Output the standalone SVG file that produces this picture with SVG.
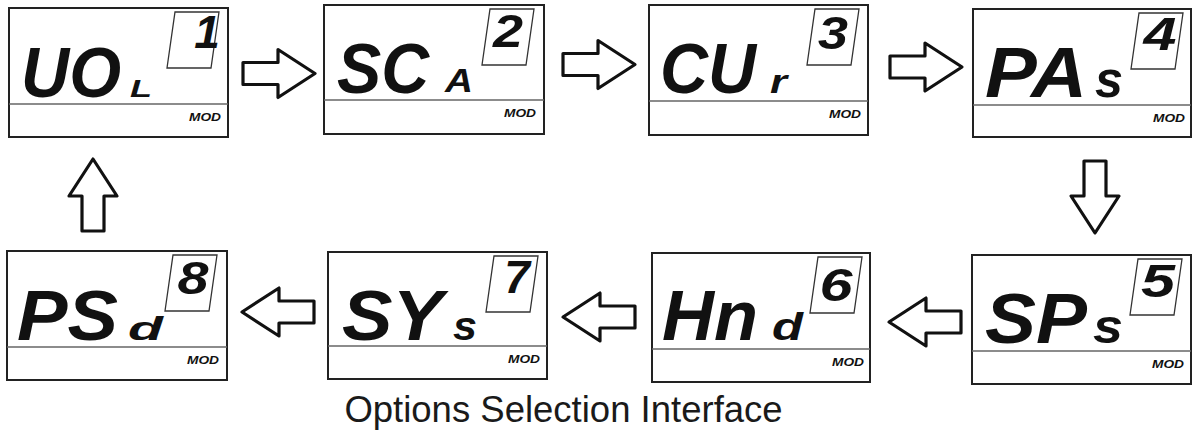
<svg xmlns="http://www.w3.org/2000/svg" width="1193" height="439" viewBox="0 0 1193 439">
<style>
.frame{fill:#fff;stroke:#222;stroke-width:2}
.div{stroke:#666;stroke-width:1.6}
.win{fill:none;stroke:#333;stroke-width:1.3}
.lcd{font-family:"Liberation Sans",Arial,sans-serif;font-weight:bold;font-style:italic;fill:#111}
.big{font-size:70px}
.dig{font-size:46px}
.mod{font-size:10px}
.arrow{fill:#fff;stroke:#111;stroke-width:3.2;stroke-linejoin:round}
.cap{font-family:"Liberation Sans",Arial,sans-serif;font-size:36.5px;fill:#1a1a1a}
</style>
<defs>
<path id="arr" d="M0,-11 L35,-11 L35,-24 L72,0 L35,24 L35,11 L0,11 Z"/>
<polygon id="win" points="166,4 210,4 202,60 158,60"/>
</defs>

<g id="node1" transform="translate(9,8)">
<rect class="frame" x="0" y="0" width="219" height="129"/>
<line class="div" x1="0" y1="96" x2="219" y2="96"/>
<use href="#win" class="win"/>
<text class="lcd big" x="12" y="89" textLength="100" lengthAdjust="spacingAndGlyphs">UO</text>
<text class="lcd" x="121" y="89" font-size="24" textLength="22" lengthAdjust="spacingAndGlyphs">L</text>
<text class="lcd dig" x="198" y="40" text-anchor="middle">1</text>
<text class="lcd mod" x="180" y="113" textLength="32" lengthAdjust="spacingAndGlyphs">MOD</text>
</g>

<g id="node2" transform="translate(324,5)">
<rect class="frame" x="0" y="0" width="220" height="129"/>
<line class="div" x1="0" y1="95" x2="220" y2="95"/>
<use href="#win" class="win"/>
<text class="lcd big" x="13" y="88" textLength="92" lengthAdjust="spacingAndGlyphs">SC</text>
<text class="lcd" x="121" y="87" font-size="34" textLength="28" lengthAdjust="spacingAndGlyphs">A</text>
<text class="lcd dig" x="184" y="42" text-anchor="middle" textLength="30" lengthAdjust="spacingAndGlyphs">2</text>
<text class="lcd mod" x="180" y="112" textLength="32" lengthAdjust="spacingAndGlyphs">MOD</text>
</g>

<g id="node3" transform="translate(649,5)">
<rect class="frame" x="0" y="0" width="219" height="130"/>
<line class="div" x1="0" y1="96" x2="219" y2="96"/>
<use href="#win" class="win"/>
<text class="lcd big" x="11" y="88" textLength="96" lengthAdjust="spacingAndGlyphs">CU</text>
<text class="lcd" x="121" y="88" font-size="33" textLength="17" lengthAdjust="spacingAndGlyphs">r</text>
<text class="lcd dig" x="184" y="44" text-anchor="middle" textLength="30" lengthAdjust="spacingAndGlyphs">3</text>
<text class="lcd mod" x="180" y="113" textLength="32" lengthAdjust="spacingAndGlyphs">MOD</text>
</g>

<g id="node4" transform="translate(973,9)">
<rect class="frame" x="0" y="0" width="218" height="128"/>
<line class="div" x1="0" y1="96" x2="218" y2="96"/>
<use href="#win" class="win"/>
<text class="lcd big" x="12" y="88" textLength="102" lengthAdjust="spacingAndGlyphs">PA</text>
<text class="lcd" x="122" y="88" font-size="52" textLength="28" lengthAdjust="spacingAndGlyphs">s</text>
<text class="lcd dig" x="187" y="41" text-anchor="middle" textLength="33" lengthAdjust="spacingAndGlyphs">4</text>
<text class="lcd mod" x="180" y="113" textLength="32" lengthAdjust="spacingAndGlyphs">MOD</text>
</g>

<g id="node5" transform="translate(972,255)">
<rect class="frame" x="0" y="0" width="219" height="129"/>
<line class="div" x1="0" y1="96" x2="219" y2="96"/>
<use href="#win" class="win"/>
<text class="lcd big" x="13" y="88" textLength="102" lengthAdjust="spacingAndGlyphs">SP</text>
<text class="lcd" x="121" y="88" font-size="48" textLength="30" lengthAdjust="spacingAndGlyphs">s</text>
<text class="lcd dig" x="186" y="42" text-anchor="middle" textLength="34" lengthAdjust="spacingAndGlyphs">5</text>
<text class="lcd mod" x="180" y="113" textLength="32" lengthAdjust="spacingAndGlyphs">MOD</text>
</g>

<g id="node6" transform="translate(652,253)">
<rect class="frame" x="0" y="0" width="218" height="129"/>
<line class="div" x1="0" y1="96" x2="218" y2="96"/>
<use href="#win" class="win"/>
<text class="lcd big" x="10" y="87" textLength="96" lengthAdjust="spacingAndGlyphs">Hn</text>
<text class="lcd" x="120" y="87" font-size="38" textLength="31" lengthAdjust="spacingAndGlyphs">d</text>
<text class="lcd dig" x="184" y="48" text-anchor="middle" textLength="33" lengthAdjust="spacingAndGlyphs">6</text>
<text class="lcd mod" x="180" y="113" textLength="32" lengthAdjust="spacingAndGlyphs">MOD</text>
</g>

<g id="node7" transform="translate(328,252)">
<rect class="frame" x="0" y="0" width="219" height="127"/>
<line class="div" x1="0" y1="94" x2="219" y2="94"/>
<use href="#win" class="win"/>
<text class="lcd big" x="14" y="88" textLength="101" lengthAdjust="spacingAndGlyphs">SY</text>
<text class="lcd" x="125" y="88" font-size="40" textLength="24" lengthAdjust="spacingAndGlyphs">s</text>
<text class="lcd dig" x="189" y="41" text-anchor="middle">7</text>
<text class="lcd mod" x="180" y="111" textLength="32" lengthAdjust="spacingAndGlyphs">MOD</text>
</g>

<g id="node8" transform="translate(7,251)">
<rect class="frame" x="0" y="0" width="220" height="129"/>
<line class="div" x1="0" y1="96" x2="220" y2="96"/>
<use href="#win" class="win"/>
<text class="lcd big" x="10" y="89" textLength="101" lengthAdjust="spacingAndGlyphs">PS</text>
<text class="lcd" x="121" y="89" font-size="34" textLength="35" lengthAdjust="spacingAndGlyphs">d</text>
<text class="lcd dig" x="186" y="43" text-anchor="middle" textLength="31" lengthAdjust="spacingAndGlyphs">8</text>
<text class="lcd mod" x="180" y="113" textLength="32" lengthAdjust="spacingAndGlyphs">MOD</text>
</g>

<g id="connectors">
<use href="#arr" class="arrow" transform="translate(243,73.5)"/>
<use href="#arr" class="arrow" transform="translate(563,64.5)"/>
<use href="#arr" class="arrow" transform="translate(890,67)"/>
<use href="#arr" class="arrow" transform="translate(1095,161) rotate(90)"/>
<use href="#arr" class="arrow" transform="translate(961,322) rotate(180)"/>
<use href="#arr" class="arrow" transform="translate(635,317) rotate(180)"/>
<use href="#arr" class="arrow" transform="translate(314,312) rotate(180)"/>
<use href="#arr" class="arrow" transform="translate(93,231) rotate(-90)"/>
</g>

<text class="cap" x="563.5" y="422" text-anchor="middle">Options Selection Interface</text>
</svg>
